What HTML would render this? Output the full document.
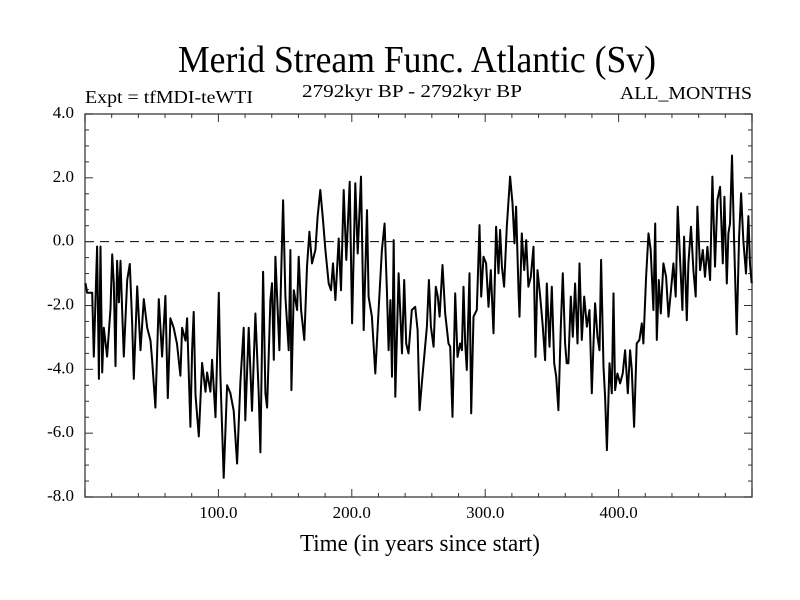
<!DOCTYPE html>
<html><head><meta charset="utf-8"><style>
html,body{margin:0;padding:0;background:#fff;}
svg{display:block;font-family:"Liberation Serif",serif;}
</style></head><body>
<svg id="chart" width="800" height="600" viewBox="0 0 800 600">
<text x="417" y="72" font-size="38" text-anchor="middle" textLength="478" lengthAdjust="spacingAndGlyphs">Merid Stream Func. Atlantic (Sv)</text>
<text x="412" y="97" font-size="18" text-anchor="middle" textLength="220" lengthAdjust="spacingAndGlyphs">2792kyr BP - 2792kyr BP</text>
<text x="85" y="103" font-size="18" textLength="168" lengthAdjust="spacingAndGlyphs">Expt = tfMDI-teWTI</text>
<text x="752" y="99" font-size="18" text-anchor="end" textLength="132" lengthAdjust="spacingAndGlyphs">ALL_MONTHS</text>
<text x="420" y="551" font-size="24" text-anchor="middle" textLength="240" lengthAdjust="spacingAndGlyphs">Time (in years since start)</text>
<g id="axes"></g>
<g id="series"></g>
</svg>
<script>
const years = [0.4,1.6,5.4,6.6,9.1,10.4,11.6,12.9,14.1,16.6,19.1,20.4,21.6,22.9,24.1,25.4,26.6,27.8,29.1,31.6,33.6,35.3,36.6,39.1,41.6,44.1,46.6,49.1,50.3,52.8,55.3,57.8,60.3,62.1,64.0,66.5,69.0,71.5,72.8,75.3,76.5,79.0,80.3,81.5,82.8,85.3,87.8,90.3,91.5,94.0,95.3,97.8,100.3,101.5,104.0,106.5,109.0,111.5,114.0,116.5,119.0,120.2,122.7,
125.2,127.7,130.2,131.5,133.5,135.2,136.5,139.0,140.2,141.5,142.7,144.0,145.7,147.0,148.5,150.2,152.7,154.0,154.7,156.5,159.0,160.2,162.0,164.4,166.4,168.2,170.2,172.7,174.4,176.4,178.4,180.2,182.7,184.4,185.9,187.7,188.9,190.2,191.9,193.9,195.9,198.4,200.2,202.6,204.4,206.9,208.9,211.4,212.6,215.1,217.6,220.1,222.6,224.6,226.4,227.6,228.9,230.1,231.4,232.6,235.1,237.6,
239.3,240.8,242.5,245.0,247.5,249.3,250.8,252.5,254.3,256.3,257.8,259.3,261.3,263.0,264.5,265.8,268.0,270.0,272.5,273.8,275.5,277.5,279.2,281.2,282.5,283.7,285.0,286.2,288.2,289.5,291.2,293.7,295.7,297.0,298.7,300.7,302.5,304.2,306.2,308.2,310.0,311.2,312.5,314.2,316.2,318.7,320.5,322.0,323.2,325.0,325.7,327.4,329.2,330.7,332.4,334.2,336.2,337.7,339.2,341.2,343.2,344.9,346.2,348.2,349.9,351.7,353.2,354.9,356.7,358.2,359.9,361.1,
362.4,364.2,365.7,367.4,369.2,370.7,372.4,374.2,376.2,378.2,379.9,381.2,382.4,384.2,385.7,386.9,388.7,389.9,391.2,393.2,394.9,396.2,397.4,399.1,401.1,403.1,404.9,406.9,408.6,409.9,411.6,413.6,415.6,417.4,418.6,420.6,422.4,424.1,426.1,427.4,428.6,430.1,431.6,433.6,435.6,437.4,439.3,441.1,442.8,444.3,446.1,447.8,449.1,451.1,452.3,454.3,456.1,457.8,459.1,461.1,463.1,464.8,466.6,468.6,470.3,472.3,474.1,476.1,478.1,479.3,481.1,482.3,483.5,485.0,486.5,488.5,490.3,491.8,493.5,495.5,497.3,498.5,499.8];
const values = [-1.3,-1.6,-1.6,-3.6,-0.15,-4.3,-0.15,-4.1,-2.7,-3.6,-2.1,-0.4,-1.3,-3.9,-0.6,-1.9,-0.6,-2.1,-3.6,-1.2,-0.7,-2.5,-4.3,-1.4,-3.4,-1.8,-2.7,-3.1,-3.7,-5.2,-1.8,-3.6,-1.7,-4.9,-2.4,-2.7,-3.2,-4.2,-2.7,-3.1,-2.4,-5.8,-3.4,-2.2,-4.8,-6.1,-3.8,-4.7,-4.1,-4.7,-3.7,-5.5,-1.6,-4.2,-7.4,-4.5,-4.75,-5.3,-6.95,-4.4,-2.7,-5.6,-2.7,
-5.3,-2.25,-4.75,-6.6,-0.94,-4.75,-5.2,-1.83,-1.3,-3.7,-0.47,-1.72,-3.4,-1.1,1.3,-1.72,-3.4,-0.26,-4.65,-1.52,-2.14,-0.47,-2.14,-3.08,-0.78,0.31,-0.68,-0.26,0.78,1.62,0.68,-0.26,-1.31,-1.52,-0.68,-1.83,-0.89,0.1,-1.52,1.62,-0.57,1.88,-2.56,1.83,-0.37,2.04,-2.77,0.99,-1.72,-2.35,-4.13,-2.14,-0.26,0.57,-1.62,-3.4,-1.83,-4.23,0.05,-4.86,-0.99,-3.5,
-1.2,-3.19,-3.5,-2.14,-2.04,-2.77,-5.28,-4.44,-3.61,-2.66,-1.2,-2.66,-3.29,-1.41,-1.72,-2.35,-0.73,-2.25,-3.19,-3.29,-5.49,-1.62,-3.61,-3.19,-3.4,-1.41,-3.19,-4.02,-0.99,-5.38,-2.35,-2.14,0.52,-1.72,-0.47,-0.68,-2.04,-0.89,-2.87,0.47,-0.99,0.37,-0.78,-1.41,0.47,2.04,1.2,-0.05,1.1,-1.52,-2.35,0.26,-0.89,0.05,-1.41,-1.1,-0.16,-3.61,-0.89,-1.72,-2.66,-3.71,-1.31,-3.29,-1.41,-3.81,-4.23,-5.28,-2.66,-0.99,-3.19,-3.81,
-3.81,-1.72,-2.98,-1.31,-3.19,-0.68,-3.08,-1.72,-2.66,-2.14,-4.75,-3.19,-1.93,-2.98,-3.4,-0.57,-3.92,-4.86,-6.53,-3.81,-4.75,-1.62,-4.65,-4.13,-4.44,-4.13,-3.4,-4.75,-3.4,-4.02,-5.8,-3.19,-3.08,-2.56,-3.19,-1.1,0.26,-0.26,-2.14,0.57,-3.08,-1.2,-2.25,-0.68,-1.1,-2.35,-1.52,-0.68,-1.72,1.1,-0.57,-2.14,0.16,-2.46,-0.68,0.47,-0.89,-1.72,1.1,-0.89,-0.26,-1.1,-0.16,-1.2,2.04,-0.78,1.31,1.72,-0.68,1.41,-1.31,0.26,0.57,2.7,0.16,-2.9,0.16,1.52,0.05,-1.0,0.8,-0.7,-1.3];
const yTicks = [4.0,2.0,0.0,-2.0,-4.0,-6.0,-8.0];
const yTickLabels = ["4.0","2.0","0.0","-2.0","-4.0","-6.0","-8.0"];
const xTicks = [100,200,300,400];
const xTickLabels = ["100.0","200.0","300.0","400.0"];
const xMin=0,xMax=500,yMin=-8,yMax=4;
const L=85,R=752,T=114,B=497;
const sx=v=>L+(v-xMin)/(xMax-xMin)*(R-L);
const sy=v=>B-(v-yMin)/(yMax-yMin)*(B-T);
const NS="http://www.w3.org/2000/svg";
const axes=document.getElementById('axes'), ser=document.getElementById('series');
function mk(tag,attrs,parent){const e=document.createElementNS(NS,tag);for(const k in attrs)e.setAttribute(k,attrs[k]);parent.appendChild(e);return e;}
const frame=mk('rect',{x:L,y:T,width:R-L,height:B-T,fill:'none',stroke:'#555','stroke-width':1.5},axes);


const zl=mk('line',{x1:L,x2:R,y1:sy(0),y2:sy(0),stroke:'#000','stroke-width':1,'stroke-dasharray':'9,6'},axes);


for(let v=yMin;v<=yMax+1e-9;v+=0.5){
  const major=Math.abs(v/2-Math.round(v/2))<1e-6;const len=major?8:4;
  const a=mk('line',{x1:L,x2:L+len,y1:sy(v),y2:sy(v),stroke:'#333'},axes);
  
  
  const b=mk('line',{x1:R,x2:R-len,y1:sy(v),y2:sy(v),stroke:'#333'},axes);
  
  
}
for(let v=xMin;v<=xMax;v+=20){
  const major=v%100===0;const len=major?8:4;
  const a=mk('line',{x1:sx(v),x2:sx(v),y1:B,y2:B-len,stroke:'#333'},axes);
  
  
  const b=mk('line',{x1:sx(v),x2:sx(v),y1:T,y2:T+len,stroke:'#333'},axes);
  
  
}
yTicks.forEach((v,i)=>{
  const t=mk('text',{x:74,y:sy(v)+4,'font-size':17,'text-anchor':'end'},axes);
  t.textContent=yTickLabels[i];
  
  
});
xTicks.forEach((v,i)=>{
  const t=mk('text',{x:sx(v),y:518,'font-size':17,'text-anchor':'middle'},axes);
  t.textContent=xTickLabels[i];
  
  
});
const d=years.map((y,i)=>(i?'L':'M')+sx(y).toFixed(1)+','+sy(values[i]).toFixed(1)).join('');
const p=mk('path',{d:d,fill:'none',stroke:'#000','stroke-width':2,'stroke-linejoin':'round'},ser);


</script>
</body></html>
